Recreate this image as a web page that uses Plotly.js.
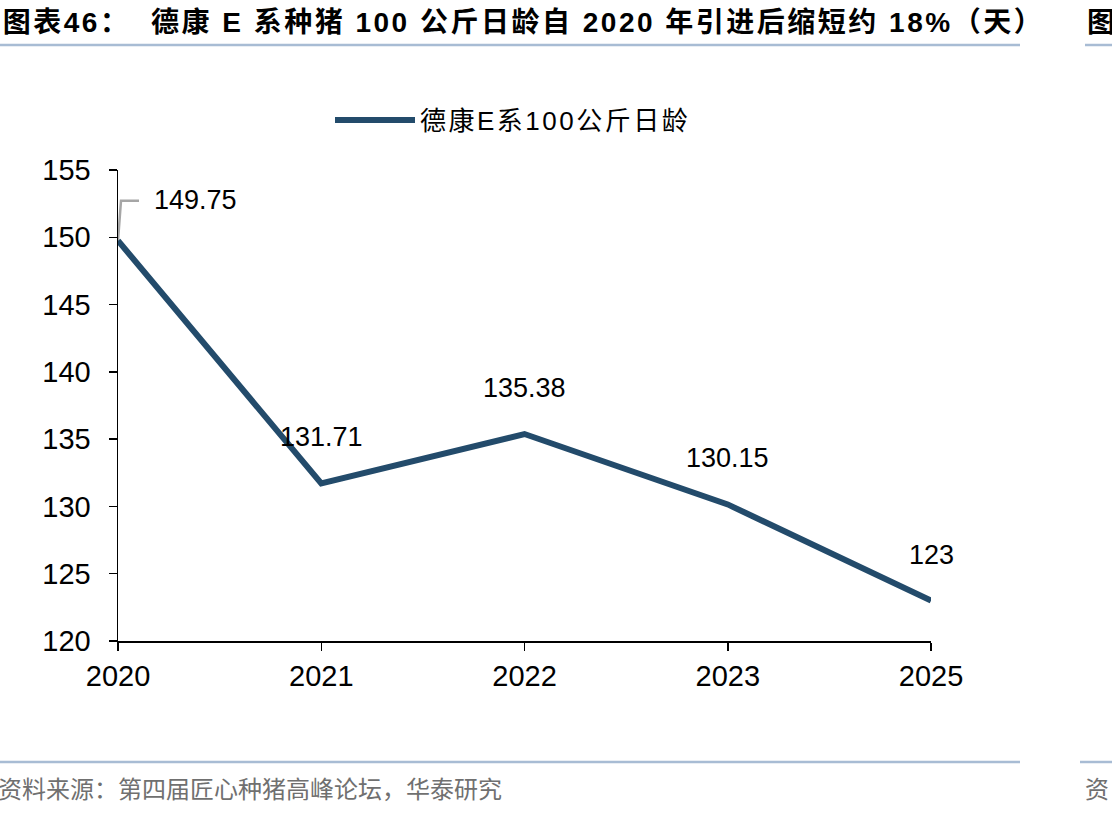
<!DOCTYPE html>
<html>
<head>
<meta charset="utf-8">
<script src="https://cdn.plot.ly/plotly-3.0.1.min.js"></script>
<style>
html,body{margin:0;padding:0;background:#fff;}
#chart{width:1112px;height:817px;}
g.annotation[data-index="5"] text{letter-spacing:2.5px;}
.legendtext{letter-spacing:2.5px;}
</style>
</head>
<body>
<div id="chart"></div>
<script>
const years = ["2020", "2021", "2022", "2023", "2025"];
const values = [149.75, 131.71, 135.38, 130.15, 123];
const labels = ["149.75", "131.71", "135.38", "130.15", "123"];
const seriesName = "德康E系100公斤日龄";
const titleText = "图表46：  德康 E 系种猪 100 公斤日龄自 2020 年引进后缩短约 18%（天）";
const sideTitle = "图";
const sourceText = "资料来源：第四届匠心种猪高峰论坛，华泰研究";
const sideSource = "资";
const yTicks = [120, 125, 130, 135, 140, 145, 150, 155];

const lineColor = "#234b6b";
const sepColor = "#a8bcd4";
const numFont = "Liberation Sans, Arial, Noto Sans CJK SC, sans-serif";
const cjkFont = "Liberation Sans, Noto Sans CJK SC, sans-serif";

const trace = {
  type: "scatter",
  mode: "lines",
  x: years,
  y: values,
  name: seriesName,
  line: {color: lineColor, width: 6},
  hoverinfo: "skip"
};

// category axis: position of each category is its serial index
const annotations = values.map((v, i) => ({
  x: years.indexOf(years[i]), y: v, xref: "x", yref: "y",
  text: labels[i], showarrow: false,
  xanchor: i === 0 ? "left" : "center",
  yanchor: "middle",
  xshift: i === 0 ? 34 : 0,
  yshift: i === 0 ? 41 : 46,
  font: {family: numFont, size: 27, color: "#000"}
}));

annotations.push(
  {xref: "paper", yref: "paper", x: -118/813, y: (641-22)/471, xanchor: "left", yanchor: "middle",
   xshift: 57,
   text: "<b>" + titleText + "</b>", showarrow: false,
   font: {family: cjkFont, size: 28, color: "#000"}},
  {xref: "paper", yref: "paper", x: (1085-118)/813, y: (641-22)/471, xanchor: "left", yanchor: "middle",
   text: "<b>" + sideTitle + "</b>", showarrow: false,
   font: {family: cjkFont, size: 28, color: "#000"}},
  {xref: "paper", yref: "paper", x: (-4-118)/813, y: (641-787)/471, xanchor: "left", yanchor: "middle",
   text: sourceText, showarrow: false,
   font: {family: "Noto Sans CJK SC, sans-serif", size: 24, color: "#707070"}},
  {xref: "paper", yref: "paper", x: (1083-118)/813, y: (641-787)/471, xanchor: "left", yanchor: "middle",
   text: sideSource, showarrow: false,
   font: {family: "Noto Sans CJK SC, sans-serif", size: 24, color: "#707070"}}
);

const shapes = [
  {type: "line", xref: "paper", yref: "paper", x0: -118/813, x1: (1020-118)/813,
   y0: (641-45)/471, y1: (641-45)/471, line: {color: sepColor, width: 2.5}},
  {type: "line", xref: "paper", yref: "paper", x0: (1085-118)/813, x1: (1112-118)/813,
   y0: (641-45)/471, y1: (641-45)/471, line: {color: sepColor, width: 2.5}},
  {type: "line", xref: "paper", yref: "paper", x0: -118/813, x1: (1020-118)/813,
   y0: (641-762)/471, y1: (641-762)/471, line: {color: sepColor, width: 2.5}},
  {type: "line", xref: "paper", yref: "paper", x0: (1080-118)/813, x1: (1112-118)/813,
   y0: (641-762)/471, y1: (641-762)/471, line: {color: sepColor, width: 2.5}},
  {type: "path", xref: "x", yref: "y", xsizemode: "pixel", ysizemode: "pixel",
   xanchor: 0, yanchor: values[0],
   path: "M0,0 L3,40 L21,40", line: {color: "#a6a6a6", width: 2.5}, layer: "below"}
];

const layout = {
  width: 1112, height: 817,
  margin: {l: 118, r: 181, t: 170, b: 176, pad: 0},
  paper_bgcolor: "#fff", plot_bgcolor: "#fff",
  showlegend: true,
  legend: {
    x: (330-118)/813, y: (641-120)/471, xanchor: "left", yanchor: "middle",
    orientation: "h", itemwidth: 80,
    font: {family: cjkFont, size: 26, color: "#000"},
    bgcolor: "rgba(0,0,0,0)"
  },
  xaxis: {
    type: "category", range: [0, 4], showgrid: false, zeroline: false,
    showline: true, linecolor: "#000", linewidth: 1.5,
    ticks: "outside", ticklen: 8, tickcolor: "#000", tickwidth: 1.5,
    ticklabelstandoff: 1,
    tickfont: {family: numFont, size: 29, color: "#000"},
    fixedrange: true
  },
  yaxis: {
    range: [120, 155], tickvals: yTicks, showgrid: false, zeroline: false,
    showline: true, linecolor: "#000", linewidth: 1.5,
    ticks: "outside", ticklen: 8, tickcolor: "#000", tickwidth: 1.5,
    ticklabelstandoff: 12,
    tickfont: {family: numFont, size: 29, color: "#000"},
    fixedrange: true
  },
  annotations: annotations,
  shapes: shapes
};

Plotly.newPlot("chart", [trace], layout, {staticPlot: true, displayModeBar: false});
</script>
</body>
</html>
